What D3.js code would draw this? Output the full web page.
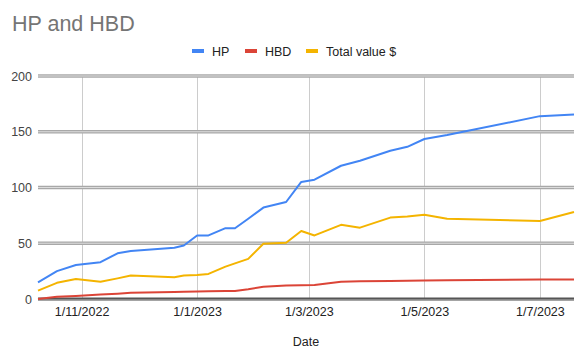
<!DOCTYPE html>
<html><head><meta charset="utf-8">
<script src="https://cdn.jsdelivr.net/npm/d3@7"></script>
<style>body{margin:0;background:#fff;}svg{display:block;font-family:Arial,"Liberation Sans",sans-serif;}</style>
</head><body>
<svg id="c" width="587" height="359"></svg>
<script>
const dates = ["2022-10-09","2022-10-19","2022-10-29","2022-11-11","2022-11-20","2022-11-27","2022-12-20","2022-12-25","2023-01-01","2023-01-07","2023-01-16","2023-01-21","2023-01-28","2023-02-05","2023-02-17","2023-02-25","2023-03-04","2023-03-18","2023-03-28","2023-04-13","2023-04-22","2023-05-01","2023-05-13","2023-07-01","2023-07-19"];
const hp    = [15,25,30.5,33,41,43,46,48,57,57,63.5,63.5,72,82,87,105,107,119.5,124,133,136.5,143.5,147,164,165.5];
const hbd   = [0,2,2.7,4,4.8,5.5,6.3,6.5,6.7,6.9,7.1,7.2,8.8,11,12,12.3,12.5,15.5,16,16.2,16.4,16.5,16.8,17.5,17.5];
const total = [7.5,14.5,18,15.5,18.5,21,19.5,21,21.5,22.5,29,32,36,49.5,50.5,61,57,66.5,64,73,74,75.5,72,70,78];
const yTicks = [0,50,100,150,200];
const xTicks = ["2022-11-01","2023-01-01","2023-03-01","2023-05-01","2023-07-01"];
const seriesNames = ["HP","HBD","Total value $"];
const colors = ["#4285F4","#DB4437","#F4B400"];

const parse = d3.timeParse("%Y-%m-%d");
const fmt = d3.timeFormat("%-d/%-m/%Y");
const D = dates.map(parse);
const svg = d3.select("#c");
const L = 38, R = 574, T = 76, B = 299;
const x = d3.scaleTime().domain(d3.extent(D)).range([L, R]);
const y = d3.scaleLinear().domain([0, 200]).range([B, T]);

// title
svg.append("text").attr("x", 12).attr("y", 31).attr("font-size", 21.5).attr("fill", "#757575").text("HP and HBD");

// vertical gridlines
svg.append("g").selectAll("line").data(xTicks.map(parse)).join("line")
  .attr("x1", d => Math.round(x(d)) + 0.5).attr("x2", d => Math.round(x(d)) + 0.5)
  .attr("y1", T).attr("y2", B).attr("stroke", "#cccccc").attr("stroke-width", 1);

// horizontal gridlines (double style)
const hg = svg.append("g");
yTicks.forEach(t => {
  const yy = y(t);
  const base = t === 0;
  hg.append("line").attr("x1", L).attr("x2", R).attr("y1", yy).attr("y2", yy)
    .attr("stroke", base ? "#555" : "#a8a8a8").attr("stroke-width", base ? 3.2 : 3.6);
  hg.append("line").attr("x1", L).attr("x2", R).attr("y1", yy + (base ? 0.8 : 0)).attr("y2", yy + (base ? 0.8 : 0))
    .attr("stroke", base ? "#999" : "#dcdcdc").attr("stroke-width", 1.1);
});

// y axis labels
const yAxis = d3.axisLeft(y).tickValues(yTicks).tickSize(0).tickPadding(0);
const ya = svg.append("g").attr("transform", `translate(${L - 6},0)`).call(yAxis);
ya.select(".domain").remove();
ya.selectAll("text").attr("font-size", 12.5).attr("fill", "#444").attr("font-family", "Arial,'Liberation Sans',sans-serif");

// x axis labels
const xAxis = d3.axisBottom(x).tickValues(xTicks.map(parse)).tickFormat(fmt).tickSize(0).tickPadding(0);
const xa = svg.append("g").attr("transform", `translate(0,${B + 8})`).call(xAxis);
xa.select(".domain").remove();
xa.selectAll("text").attr("font-size", 12.5).attr("fill", "#222").attr("font-family", "Arial,'Liberation Sans',sans-serif");

// axis title
svg.append("text").attr("x", 306).attr("y", 346).attr("text-anchor", "middle").attr("font-size", 12.5).attr("fill", "#222").text("Date");

// lines
const data = [hp, hbd, total];
const line = d3.line().x((d, i) => x(D[i])).y(d => y(d));
[1, 2, 0].forEach(k => {
  svg.append("path").datum(data[k]).attr("d", line).attr("fill", "none")
    .attr("stroke", colors[k]).attr("stroke-width", 2).attr("stroke-linejoin", "round");
});

// legend
const legX = [192, 245, 306];
const lg = svg.append("g");
seriesNames.forEach((n, i) => {
  lg.append("rect").attr("x", legX[i]).attr("y", 49).attr("width", 12).attr("height", 4).attr("fill", colors[i]);
  lg.append("text").attr("x", legX[i] + 20).attr("y", 55.5).attr("font-size", 12.5).attr("fill", "#222").text(n);
});
</script>
</body></html>
